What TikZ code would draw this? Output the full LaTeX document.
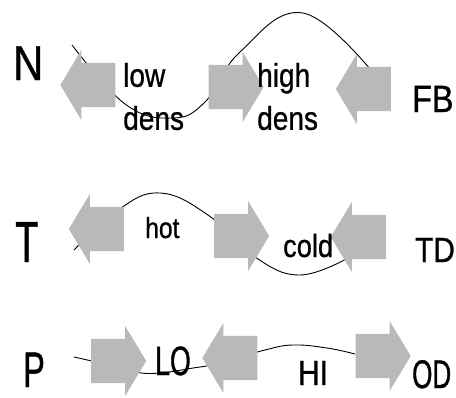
\documentclass[tikz,border=0pt]{standalone}
\usepackage{fontspec}
\setmainfont{Liberation Sans}[FakeStretch=0.85, FakeBold=0.8]
\newfontfamily\narrowfont{Liberation Sans}[FakeStretch=0.65, FakeBold=0.8]
\usetikzlibrary{shapes.arrows}

\begin{document}
\begin{tikzpicture}[x=1pt, y=1pt]
    \tikzstyle{blk}=[single arrow, draw=none, fill=gray!55,
                     minimum height=55pt, minimum width=70pt,
                     single arrow head extend=13pt,
                     single arrow tip angle=118, inner xsep=0pt, inner ysep=22pt]
    \tikzstyle{lft}=[blk, shape border rotate=180]
    \tikzstyle{lbl}=[inner sep=0pt, anchor=base west]
    \tikzstyle{wave}=[line width=0.9pt]
    \useasboundingbox (0,0) rectangle (456,-397);

    % the curves (behind the arrows)
    \draw[wave] plot[smooth, tension=0.7] coordinates {(72,-45) (125,-104) (172,-118)
        (205,-102) (240,-52) (303,-13) (375,-75)};
    \draw[wave] plot[smooth, tension=0.7] coordinates {(74,-250) (118,-210) (160,-193)
        (208,-215) (255,-257) (300,-275) (350,-257)};
    \draw[wave] plot[smooth, tension=0.7] coordinates {(74,-357) (100,-363) (135,-372)
        (160,-373) (193,-368) (215,-364) (265,-350) (293,-345) (327,-348) (355,-354)};

    % N row
    \node[lft] (n1) at (94.5,-85) {};
    \node[blk] (n2) at (229.5,-87) {};
    \node[lft] (n3) at (370,-89) {};
    \node[lbl, font=\fontsize{49}{49}\selectfont] (nlab) at (13,-80) {N};
    \node[inner sep=0pt, anchor=west, align=left, font=\fontsize{33}{43}\selectfont]
        (low) at (123,-96.5) {low\\dens};
    \node[inner sep=0pt, anchor=west, align=left, font=\fontsize{33}{43}\selectfont]
        (high) at (257,-96.5) {high\\dens};
    \node[lbl, font=\fontsize{38}{38}\selectfont] (fb) at (412,-112) {FB};

    % T row
    \node[lft] (t1) at (103,-229) {};
    \node[blk] (t2) at (235,-236) {};
    \node[lft] (t3) at (365,-237) {};
    \node[lbl, font=\narrowfont\fontsize{58}{58}\selectfont] (tlab) at (15,-262) {T};
    \node[lbl, font=\fontsize{29}{29}\selectfont] (hot) at (145,-238) {hot};
    \node[lbl, font=\fontsize{32}{32}\selectfont] (cold) at (283,-257) {cold};
    \node[lbl, font=\fontsize{35}{35}\selectfont] (td) at (415,-262) {TD};

    % P row
    \node[blk] (p1) at (112,-361) {};
    \node[lft] (p2) at (236.5,-358) {};
    \node[blk] (p3) at (376.5,-356) {};
    \node[lbl, font=\narrowfont\fontsize{50}{50}\selectfont] (plab) at (23,-387) {P};
    \node[lbl, font=\narrowfont\fontsize{41}{41}\selectfont] (lo) at (155,-375) {LO};
    \node[lbl, font=\fontsize{35}{35}\selectfont] (hi) at (298,-385) {HI};
    \node[lbl, font=\narrowfont\fontsize{40}{40}\selectfont] (od) at (412,-388) {OD};
\end{tikzpicture}
\end{document}
